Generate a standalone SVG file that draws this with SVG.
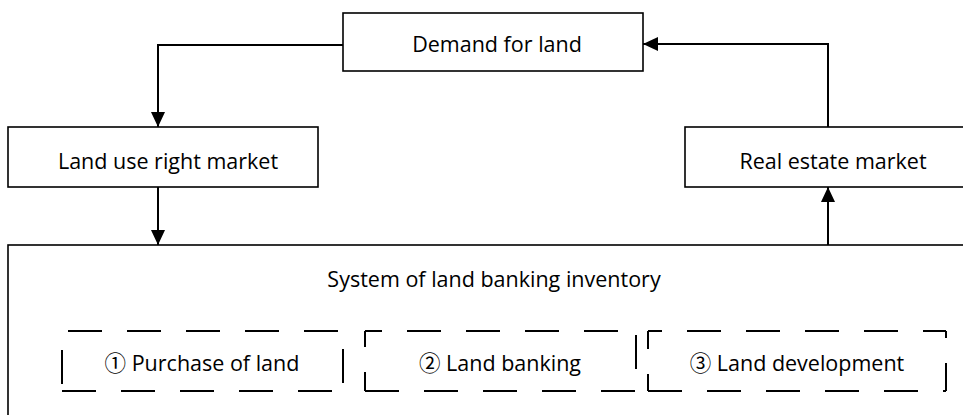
<svg xmlns="http://www.w3.org/2000/svg" width="963" height="415" viewBox="0 0 963 415">
<style>
.box{fill:#fff;stroke:#000;stroke-width:1.6}
.dash{fill:none;stroke:#000;stroke-width:2;stroke-dasharray:34 25}
.lbl{font-family:"Open Sans","Noto Sans","Noto Sans CJK SC",sans-serif;font-size:21.5px;fill:#000;text-anchor:middle}
.con{fill:none;stroke:#000;stroke-width:2}
</style>
<defs>
<marker id="ah" markerUnits="userSpaceOnUse" markerWidth="16" markerHeight="16" viewBox="0 0 16 16" refX="15" refY="8" orient="auto">
<path d="M0,1 L15,8 L0,15 Z" fill="#000"/>
</marker>
</defs>
<rect width="963" height="415" fill="#fff"/>
<g id="demand">
<rect class="box" x="343" y="13" width="300" height="58"/>
<text class="lbl" x="497" y="52">Demand for land</text>
</g>
<g id="landuse">
<rect class="box" x="8" y="127" width="310" height="60"/>
<text class="lbl" x="168" y="169">Land use right market</text>
</g>
<g id="realestate">
<rect class="box" x="685" y="127" width="300" height="60"/>
<text class="lbl" x="833" y="169">Real estate market</text>
</g>
<g id="system">
<rect class="box" x="8" y="245" width="980" height="200"/>
<text class="lbl" x="494" y="287">System of land banking inventory</text>
</g>
<g id="purchase">
<line class="dash" x1="62" y1="331" x2="343" y2="331" stroke-dashoffset="53"/>
<line class="dash" x1="62" y1="391" x2="343" y2="391"/>
<line class="dash" x1="62" y1="331" x2="62" y2="391" stroke-dashoffset="40"/>
<line class="dash" x1="343" y1="331" x2="343" y2="391" stroke-dashoffset="41"/>
<text class="lbl" x="202" y="371">① Purchase of land</text>
</g>
<g id="banking">
<line class="dash" x1="365" y1="331" x2="636" y2="331" stroke-dashoffset="17"/>
<line class="dash" x1="365" y1="391" x2="636" y2="391"/>
<line class="dash" x1="365" y1="331" x2="365" y2="391" stroke-dashoffset="18"/>
<line class="dash" x1="636" y1="331" x2="636" y2="391" stroke-dashoffset="55"/>
<text class="lbl" x="500" y="371">② Land banking</text>
</g>
<g id="development">
<line class="dash" x1="648" y1="331" x2="946" y2="331" stroke-dashoffset="20"/>
<line class="dash" x1="648" y1="391" x2="946" y2="391"/>
<line class="dash" x1="648" y1="331" x2="648" y2="391" stroke-dashoffset="16"/>
<line class="dash" x1="946" y1="331" x2="946" y2="391" stroke-dashoffset="27"/>
<text class="lbl" x="797" y="371">③ Land development</text>
</g>
<g id="connectors">
<path class="con" d="M343,45 H158 V127" marker-end="url(#ah)"/>
<path class="con" d="M158,187 V245" marker-end="url(#ah)"/>
<path class="con" d="M828,245 V187" marker-end="url(#ah)"/>
<path class="con" d="M828,127 V44 H643" marker-end="url(#ah)"/>
</g>
</svg>
